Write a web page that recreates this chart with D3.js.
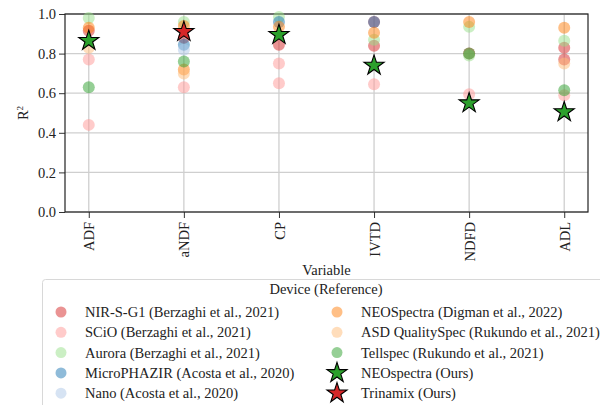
<!DOCTYPE html>
<html>
<head>
<meta charset="utf-8">
<script src="https://cdn.jsdelivr.net/npm/d3@7"></script>
<style>
  body { margin: 0; background: #fff; }
  svg { display: block; font-family: "Liberation Serif", serif; }
</style>
</head>
<body>
<div id="chart"></div>
<script>
// categories on the x axis
const variables = ["ADF", "aNDF", "CP", "IVTD", "NDFD", "ADL"];
const yTicks = [0, 0.2, 0.4, 0.6, 0.8, 1.0];

// legend entries, in drawing order
const devices = [
  "NIR-S-G1 (Berzaghi et al., 2021)",
  "SCiO (Berzaghi et al., 2021)",
  "Aurora (Berzaghi et al., 2021)",
  "MicroPHAZIR (Acosta et al., 2020)",
  "Nano (Acosta et al., 2020)",
  "NEOSpectra (Digman et al., 2022)",
  "ASD QualitySpec (Rukundo et al., 2021)",
  "Tellspec (Rukundo et al., 2021)",
  "NEOspectra (Ours)",
  "Trinamix (Ours)"
];
const deviceColors = ["#d62728", "#ff9896", "#98df8a", "#1f77b4", "#aec7e8",
                      "#ff7f0e", "#ffbb78", "#2ca02c", "#2ca02c", "#d62728"];

// R² values: [variable, value]
const nirsg1 = [["ADF", 0.915], ["aNDF", 0.88], ["CP", 0.845], ["IVTD", 0.96], ["IVTD", 0.84], ["NDFD", 0.80], ["ADL", 0.83], ["ADL", 0.77]];
const scio = [["ADF", 0.77], ["ADF", 0.44], ["aNDF", 0.63], ["CP", 0.75], ["CP", 0.65], ["IVTD", 0.645], ["NDFD", 0.595], ["ADL", 0.59]];
const aurora = [["ADF", 0.98], ["aNDF", 0.96], ["CP", 0.985], ["IVTD", 0.87], ["NDFD", 0.935], ["NDFD", 0.79], ["ADL", 0.865]];
const microphazir = [["aNDF", 0.845], ["CP", 0.96], ["IVTD", 0.96]];
const nano = [["aNDF", 0.82]];
const neoDigman = [["ADF", 0.93], ["aNDF", 0.94], ["aNDF", 0.72], ["CP", 0.935], ["IVTD", 0.905], ["NDFD", 0.96], ["ADL", 0.93]];
const asd = [["ADF", 0.83], ["aNDF", 0.70], ["ADL", 0.75]];
const tellspec = [["ADF", 0.63], ["aNDF", 0.76], ["NDFD", 0.80], ["ADL", 0.615]];
const neoOurs = [["ADF", 0.865], ["CP", 0.895], ["IVTD", 0.74], ["NDFD", 0.55], ["ADL", 0.505]];
const trinamix = [["aNDF", 0.91]];

const seriesValues = [nirsg1, scio, aurora, microphazir, nano, neoDigman, asd, tellspec, neoOurs, trinamix];
const isStar = [false, false, false, false, false, false, false, false, true, true];

let width = 600;
let height = 405;
let plot = {left: 65, right: 588, top: 14, bottom: 212};
let fontSize = "14.5px";

let svg = d3.select("#chart")
  .append("svg")
  .attr("width", width)
  .attr("height", height);

let x = d3.scalePoint()
  .domain(variables)
  .range([plot.left, plot.right])
  .padding(0.25);

let y = d3.scaleLinear()
  .domain([0, 1])
  .range([plot.bottom, plot.top]);

// grid
svg.append("g")
  .selectAll("line.hgrid")
  .data(yTicks)
  .enter()
  .append("line")
  .attr("x1", plot.left).attr("x2", plot.right)
  .attr("y1", d => y(d)).attr("y2", d => y(d))
  .style("stroke", "#cfcfcf")
  .style("stroke-width", "1.3px");

svg.append("g")
  .selectAll("line.vgrid")
  .data(variables)
  .enter()
  .append("line")
  .attr("x1", d => x(d)).attr("x2", d => x(d))
  .attr("y1", plot.top).attr("y2", plot.bottom)
  .style("stroke", "#cfcfcf")
  .style("stroke-width", "1.3px");

// axes
let yAxis = svg.append("g")
  .attr("transform", "translate(" + plot.left + ",0)")
  .call(d3.axisLeft(y).tickValues(yTicks).tickFormat(d3.format(".1f")).tickSize(6).tickPadding(3));

let xAxis = svg.append("g")
  .attr("transform", "translate(0," + plot.bottom + ")")
  .call(d3.axisBottom(x).tickSize(6).tickPadding(4));

[yAxis, xAxis].forEach(a => {
  a.attr("font-family", null).attr("font-size", null);
  a.select(".domain").remove();
  a.selectAll("line").style("stroke", "#333").style("stroke-width", "1px");
  a.selectAll("text")
    .style("font-size", fontSize)
    .style("fill", "#222");
});

xAxis.selectAll("text")
  .attr("transform", "rotate(-90)")
  .attr("x", -10)
  .attr("y", 0)
  .attr("dy", "0.35em")
  .style("text-anchor", "end");

// frame
svg.append("rect")
  .attr("x", plot.left).attr("y", plot.top)
  .attr("width", plot.right - plot.left)
  .attr("height", plot.bottom - plot.top)
  .style("fill", "none")
  .style("stroke", "#222")
  .style("stroke-width", "1.2px");

// axis labels
svg.append("text")
  .attr("transform", "translate(23," + ((plot.top + plot.bottom) / 2) + ") rotate(-90)")
  .attr("text-anchor", "middle")
  .attr("dy", "0.35em")
  .style("font-size", fontSize)
  .style("fill", "#222")
  .html("R<tspan font-size='9px' dy='-5'>2</tspan>");

svg.append("text")
  .attr("x", (plot.left + plot.right) / 2)
  .attr("y", 275)
  .attr("text-anchor", "middle")
  .style("font-size", fontSize)
  .style("fill", "#222")
  .text("Variable");

// marks
let star = d3.symbol().type(d3.symbolStar).size(125);

let marks = svg.append("g");
seriesValues.forEach((vals, i) => {
  if (isStar[i]) return;
  marks.selectAll(null)
    .data(vals)
    .enter()
    .append("circle")
    .attr("cx", d => x(d[0]))
    .attr("cy", d => y(d[1]))
    .attr("r", 6)
    .style("fill", deviceColors[i])
    .style("fill-opacity", 0.5);
});
seriesValues.forEach((vals, i) => {
  if (!isStar[i]) return;
  marks.selectAll(null)
    .data(vals)
    .enter()
    .append("path")
    .attr("d", star)
    .attr("transform", d => "translate(" + x(d[0]) + "," + y(d[1]) + ")")
    .style("fill", deviceColors[i])
    .style("stroke", "black")
    .style("stroke-width", "1.1px");
});

// legend
let legend = svg.append("g");
legend.append("rect")
  .attr("x", 42.5).attr("y", 279.5)
  .attr("width", 570).attr("height", 140)
  .attr("rx", 3)
  .style("fill", "white")
  .style("fill-opacity", 0.8)
  .style("stroke", "#d8d8d8")
  .style("stroke-width", "1px");

legend.append("text")
  .attr("x", 326)
  .attr("y", 294)
  .attr("text-anchor", "middle")
  .style("font-size", fontSize)
  .style("fill", "#222")
  .text("Device (Reference)");

let items = legend.selectAll("g.item")
  .data(devices)
  .enter()
  .append("g")
  .attr("transform", (d, i) => {
    let col = Math.floor(i / 5), row = i % 5;
    return "translate(" + (col === 0 ? 61 : 337) + "," + (312 + row * 20.3) + ")";
  });

items.each(function(d, i) {
  let g = d3.select(this);
  if (isStar[i]) {
    g.append("path")
      .attr("d", star)
      .style("fill", deviceColors[i])
      .style("stroke", "black")
      .style("stroke-width", "1.1px");
  } else {
    g.append("circle")
      .attr("r", 5.5)
      .style("fill", deviceColors[i])
      .style("fill-opacity", 0.5);
  }
  g.append("text")
    .attr("x", 24)
    .attr("dy", "0.35em")
    .style("font-size", fontSize)
    .style("fill", "#222")
    .text(d);
});
</script>
</body>
</html>
